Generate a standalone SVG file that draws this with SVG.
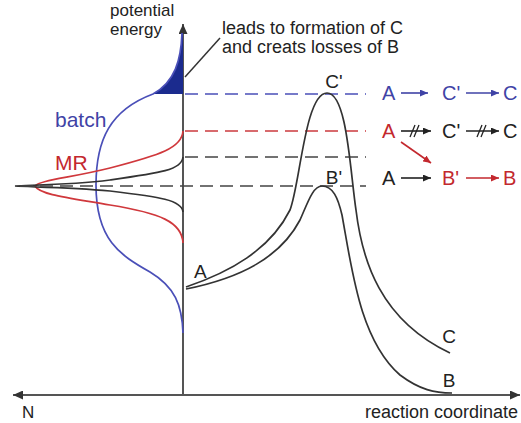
<svg xmlns="http://www.w3.org/2000/svg" width="521" height="423" viewBox="0 0 521 423">
<style>
text{font-family:"Liberation Sans",Arial,sans-serif;}
.t17{font-size:17px;fill:#222;}
.t18{font-size:18px;fill:#222;}
.lbl{font-size:19px;fill:#222;}
.rt{font-size:20px;}
.blue{fill:#3f43a6;}
.red{fill:#c3282e;}
.blk{fill:#222;}
.curve{fill:none;stroke:#333;stroke-width:1.7;}
.axis{fill:none;stroke:#555;stroke-width:2;}
.dash{fill:none;stroke-width:1.6;stroke-dasharray:13 7;}
.arr{fill:none;stroke-width:1.6;}
</style>
<defs>
<marker id="ahB" markerUnits="userSpaceOnUse" markerWidth="9" markerHeight="7" refX="8" refY="3.5" orient="auto"><path d="M0,0 L8,3.5 L0,7 z" fill="#3f43a6"/></marker>
<marker id="ahK" markerUnits="userSpaceOnUse" markerWidth="9" markerHeight="7" refX="8" refY="3.5" orient="auto"><path d="M0,0 L8,3.5 L0,7 z" fill="#222"/></marker>
<marker id="ahR" markerUnits="userSpaceOnUse" markerWidth="9" markerHeight="7" refX="8" refY="3.5" orient="auto"><path d="M0,0 L8,3.5 L0,7 z" fill="#c3282e"/></marker>
<marker id="ahAxis" markerUnits="userSpaceOnUse" markerWidth="11" markerHeight="9" refX="10" refY="4.5" orient="auto"><path d="M0,0 L10,4.5 L0,9 z" fill="#333"/></marker>
</defs>

<!-- axes -->
<g id="axes">
<line class="axis" x1="183" y1="395" x2="183" y2="24" marker-end="url(#ahAxis)"/>
<line class="axis" x1="183" y1="395" x2="13" y2="395" marker-end="url(#ahAxis)"/>
<line class="axis" x1="183" y1="395" x2="520" y2="395" marker-end="url(#ahAxis)"/>
<text class="t17" x="110" y="16">potential</text>
<text class="t17" x="110" y="35">energy</text>
<text class="t17" x="22" y="418">N</text>
<text class="t18" x="518" y="418" text-anchor="end">reaction coordinate</text>
</g>

<!-- distributions -->
<g id="batch">
<path d="M182,33 C181,60 175,82 153,94 L183,94 L183,33 Z" fill="#1b2b8e"/>
<path class="curve" style="stroke:#4a4fb8" d="M182,33 C181,60 175,82 153,94 C110,110 96,140 96,185 C96,240 120,255 150,272 C175,287 182,305 183,333"/>
<text class="blue" x="55" y="127" font-size="21">batch</text>
</g>
<g id="mr">
<path class="curve" style="stroke:#d0383c" d="M183,131 C182,148 160,155 110,168 C70,178 40,180 35,186 C40,195 70,198 110,205 C160,213 182,222 183,243"/>
<text class="red" x="55" y="170" font-size="21">MR</text>
</g>
<g id="narrow">
<path class="curve" d="M183,157 C182,170 160,173 110,180 C70,185 30,185 15,186 C30,187 70,187 110,191 C160,197 182,200 183,212"/>
</g>

<!-- annotation -->
<g id="note">
<line x1="185" y1="77" x2="220" y2="38" stroke="#333" stroke-width="1.5"/>
<text class="t18" x="222" y="34">leads to formation of C</text>
<text class="t18" x="222" y="53">and creats losses of B</text>
</g>

<!-- dashed levels -->
<g id="levels">
<line class="dash" stroke="#4a4fb8" x1="185" y1="94" x2="366" y2="94"/>
<line class="dash" stroke="#cc3a3e" x1="185" y1="131" x2="366" y2="131"/>
<line class="dash" stroke="#444" x1="185" y1="157" x2="366" y2="157"/>
<line class="dash" stroke="#444" x1="20" y1="186" x2="366" y2="186"/>
</g>

<!-- energy profiles -->
<g id="profileC">
<path class="curve" d="M186,287 C230,272 270,250 290,210 C300,185 305,93 327,93 C347,93 350,170 356,210 C362,260 380,320 450,353"/>
<text class="lbl" x="334" y="88" text-anchor="middle">C'</text>
<text class="lbl" x="449" y="343" text-anchor="middle">C</text>
</g>
<g id="profileB">
<path class="curve" d="M186,289 C240,278 280,258 300,220 C308,202 313,186 322,186 C333,186 338,198 342,215 C352,270 360,340 400,375 C420,390 435,393 452,393"/>
<text class="lbl" x="334" y="184" text-anchor="middle">B'</text>
<text class="lbl" x="449" y="387" text-anchor="middle">B</text>
</g>
<g id="startA">
<text class="lbl" x="194" y="278">A</text>
</g>

<!-- reaction schemes -->
<g id="scheme1">
<text class="rt blue" x="382" y="100">A</text>
<text class="rt blue" x="442" y="100">C'</text>
<text class="rt blue" x="503" y="100">C</text>
</g>
<g id="scheme2">
<text class="rt red" x="382" y="138">A</text>
<text class="rt blk" x="442" y="138">C'</text>
<text class="rt blk" x="503" y="138">C</text>
</g>
<g id="scheme3">
<text class="rt blk" x="382" y="185">A</text>
<text class="rt red" x="442" y="185">B'</text>
<text class="rt red" x="503" y="185">B</text>
</g>
<g id="connectors">
<line class="arr" stroke="#3f43a6" x1="401" y1="93" x2="428" y2="93" marker-end="url(#ahB)"/>
<line class="arr" stroke="#3f43a6" x1="466" y1="93" x2="499" y2="93" marker-end="url(#ahB)"/>
<line class="arr" stroke="#222" x1="401" y1="131" x2="431" y2="131" marker-end="url(#ahK)"/>
<path d="M410,137 L415,125 M414,137 L419,125" stroke="#222" stroke-width="1.3" fill="none"/>
<line class="arr" stroke="#222" x1="466" y1="131" x2="499" y2="131" marker-end="url(#ahK)"/>
<path d="M477,137 L482,125 M481,137 L486,125" stroke="#222" stroke-width="1.3" fill="none"/>
<line class="arr" stroke="#c3282e" x1="401" y1="142" x2="431" y2="163" marker-end="url(#ahR)"/>
<line class="arr" stroke="#222" x1="401" y1="178" x2="431" y2="178" marker-end="url(#ahK)"/>
<line class="arr" stroke="#c3282e" x1="466" y1="178" x2="499" y2="178" marker-end="url(#ahR)"/>
</g>
</svg>
